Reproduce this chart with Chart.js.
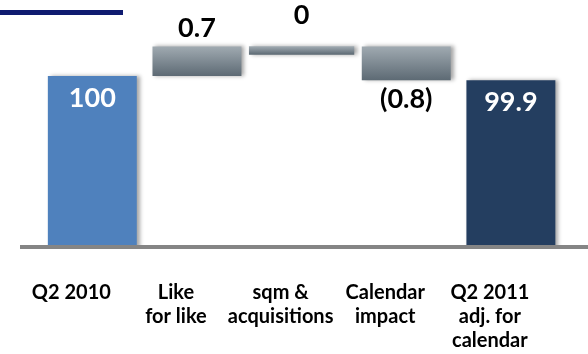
<!DOCTYPE html>
<html>
<head>
<meta charset="utf-8">
<script src="https://cdn.jsdelivr.net/npm/chart.js@4/dist/chart.umd.min.js"></script>
<style>
  html, body { margin: 0; padding: 0; background: #ffffff; }
  #wrap { width: 588px; height: 354px; position: relative; }
</style>
</head>
<body>
<div id="wrap"><canvas id="c" width="588" height="354"></canvas></div>
<script>
// Sales bridge Q2 2010 -> Q2 2011 (index)
const categories = [
  ["Q2 2010"],
  ["Like", "for like"],
  ["sqm &", "acquisitions"],
  ["Calendar", "impact"],
  ["Q2 2011", "adj. for", "calendar"]
];
const steps = [100, 0.7, 0, -0.8, 99.9];
const stepKinds = ["total", "delta", "delta", "delta", "total"];
const valueLabels = ["100", "0.7", "0", "(0.8)", "99.9"];

// Build floating ranges from the running total
const mainData = [];
const flatData = [];
let running = 0;
steps.forEach((v, i) => {
  if (stepKinds[i] === "total") {
    running = v;
    mainData.push(v);
    flatData.push(null);
  } else {
    const start = running;
    running = +(running + v).toFixed(2);
    if (v === 0) {
      mainData.push(null);
      flatData.push([start, running]);
    } else {
      mainData.push([start, running]);
      flatData.push(null);
    }
  }
});

const totalColors = ["#4f81bd", null, null, null, "#243e60"];

function greyGradient(c) {
  const chart = c.chart;
  const ys = chart.scales.y;
  if (!ys || !chart.chartArea || !Array.isArray(c.raw)) return "#7d8891";
  const top = ys.getPixelForValue(Math.max(c.raw[0], c.raw[1]));
  let bot = ys.getPixelForValue(Math.min(c.raw[0], c.raw[1]));
  if (bot - top < 8) bot = top + 8;
  const g = chart.ctx.createLinearGradient(0, top, 0, bot);
  g.addColorStop(0, "#a0aab1");
  g.addColorStop(1, "#5d6a74");
  return g;
}

// Soft shadow behind the bars
const shadowPlugin = {
  id: "barShadow",
  beforeDatasetsDraw(chart) {
    const ctx = chart.ctx;
    ctx.save();
    ctx.shadowColor = "rgba(0,0,0,0.35)";
    ctx.shadowOffsetX = 3;
    ctx.shadowOffsetY = 0;
    ctx.shadowBlur = 4;
  },
  afterDatasetsDraw(chart) {
    chart.ctx.restore();
  }
};

// Baseline, header rule and value labels
const decorPlugin = {
  id: "decor",
  afterDatasetsDraw(chart) {
    const ctx = chart.ctx;
    const area = chart.chartArea;
    ctx.save();
    // header rule
    ctx.fillStyle = "#0f1b70";
    ctx.fillRect(0, 10, 123, 5);
    // baseline
    ctx.fillStyle = "#858585";
    ctx.fillRect(20, area.bottom, chart.width - 20, 4);

    ctx.font = "bold 27px Lato";
    ctx.textAlign = "center";
    ctx.textBaseline = "middle";
    const m0 = chart.getDatasetMeta(0);
    const m1 = chart.getDatasetMeta(1);
    steps.forEach((v, i) => {
      const el = mainData[i] !== null ? m0.data[i] : m1.data[i];
      if (!el) return;
      const top = Math.min(el.y, el.base);
      const bot = Math.max(el.y, el.base);
      let y;
      if (stepKinds[i] === "total") {
        ctx.fillStyle = "#ffffff";
        y = top + 22;
      } else if (v < 0) {
        ctx.fillStyle = "#000000";
        y = bot + 19;
      } else if (v === 0) {
        ctx.fillStyle = "#000000";
        y = top - 31;
      } else {
        ctx.fillStyle = "#000000";
        y = top - 18;
      }
      ctx.fillText(valueLabels[i], el.x, y);
    });
    ctx.restore();
  }
};

new Chart(document.getElementById("c"), {
  type: "bar",
  data: {
    labels: categories,
    datasets: [
      {
        data: mainData,
        grouped: false,
        barPercentage: 0.85,
        categoryPercentage: 1.0,
        backgroundColor: (c) => totalColors[c.dataIndex] || greyGradient(c),
        borderWidth: 0
      },
      {
        data: flatData,
        grouped: false,
        barPercentage: 1.0,
        categoryPercentage: 1.0,
        minBarLength: 8,
        base: 200,
        backgroundColor: greyGradient,
        borderWidth: 0
      }
    ]
  },
  options: {
    responsive: false,
    animation: false,
    devicePixelRatio: 1,
    layout: { padding: { left: 40, right: 16, top: 0, bottom: 0 } },
    plugins: {
      legend: { display: false },
      tooltip: { enabled: false },
      title: { display: false }
    },
    scales: {
      x: {
        grid: { display: false, drawTicks: false },
        border: { display: false },
        afterFit(scale) { scale.height = 109; },
        ticks: {
          padding: 36,
          labelOffset: -21,
          maxRotation: 0,
          autoSkip: false,
          color: "#000000",
          font: { family: "Lato", weight: "bold", size: 20, lineHeight: 1.2 }
        }
      },
      y: {
        display: false,
        min: 96,
        max: 101.8
      }
    }
  },
  plugins: [shadowPlugin, decorPlugin]
});
</script>
</body>
</html>
